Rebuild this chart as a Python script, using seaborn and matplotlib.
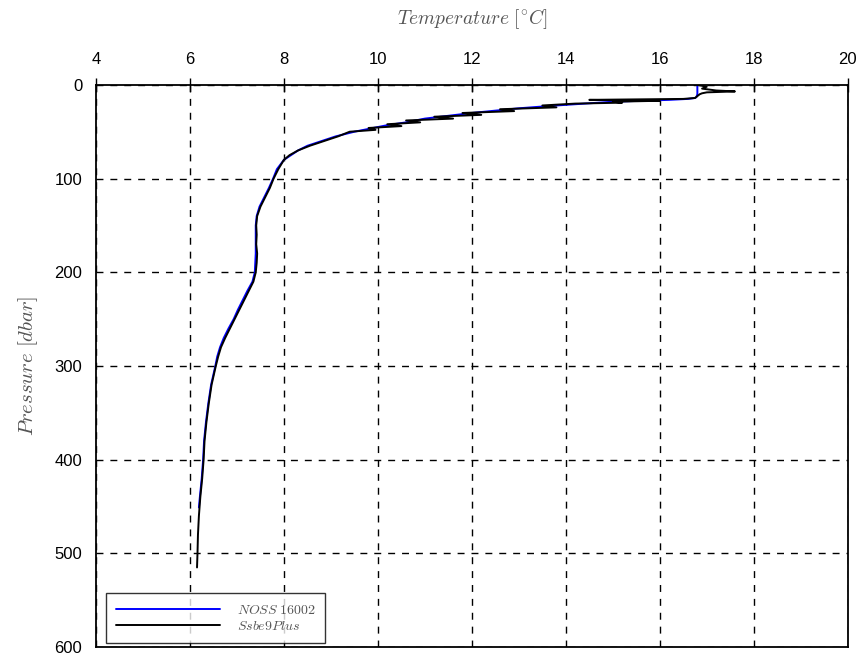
import matplotlib
matplotlib.use("Agg")
import matplotlib.pyplot as plt
import seaborn as sns
import pandas as pd

# --- data ---
noss_p = [1, 5, 10, 13, 14, 15, 16, 17, 18, 20, 22, 25, 28, 30, 33, 36, 40, 43, 46, 50,
          55, 60, 65, 70, 75, 80, 90, 100, 110, 120, 130, 140, 150, 160, 170, 180, 190,
          200, 210, 220, 230, 240, 250, 260, 270, 280, 290, 300, 320, 340, 360, 380,
          400, 420, 440, 451]
noss_t = [16.80, 16.80, 16.80, 16.78, 16.75, 16.60, 16.2, 15.6, 15.0, 14.4, 13.8, 13.0,
          12.4, 12.0, 11.5, 11.0, 10.6, 10.2, 9.9, 9.5, 9.1, 8.8, 8.5, 8.3, 8.15, 8.0,
          7.85, 7.77, 7.68, 7.58, 7.48, 7.42, 7.40, 7.40, 7.40, 7.40, 7.39, 7.38, 7.33,
          7.22, 7.12, 7.02, 6.93, 6.82, 6.72, 6.64, 6.58, 6.54, 6.45, 6.39, 6.34, 6.30,
          6.28, 6.25, 6.21, 6.19]

sbe_p = [0, 2, 4, 6, 7, 8, 9, 10, 12, 14, 15, 16, 17, 18, 19, 20, 22, 24, 26, 28, 30,
         32, 34, 36, 38, 40, 42, 44, 46, 48, 50, 55, 60, 65, 70, 75, 80, 90, 100, 110,
         120, 130, 140, 150, 160, 170, 180, 190, 200, 210, 220, 230, 240, 250, 260, 270,
         280, 290, 300, 320, 340, 360, 380, 400, 420, 440, 460, 480, 500, 515]
sbe_t = [16.80, 17.0, 16.9, 17.2, 17.6, 17.0, 16.9, 16.85, 16.80, 16.75, 16.5, 14.5,
         16.0, 15.0, 15.2, 14.2, 13.5, 13.8, 12.6, 12.9, 11.8, 12.2, 11.2, 11.6, 10.6,
         10.9, 10.2, 10.5, 9.8, 9.95, 9.4, 9.15, 8.85, 8.55, 8.3, 8.12, 8.0, 7.88, 7.78,
         7.70, 7.60, 7.50, 7.43, 7.41, 7.42, 7.41, 7.43, 7.42, 7.40, 7.35, 7.25, 7.15,
         7.05, 6.95, 6.85, 6.75, 6.66, 6.60, 6.55, 6.46, 6.40, 6.35, 6.31, 6.29, 6.26,
         6.22, 6.19, 6.17, 6.16, 6.15]

series_names = ["$NOSS\\ 16002$", "$Ssbe9Plus$"]

df = pd.concat([
    pd.DataFrame({"T": noss_t, "P": noss_p, "src": series_names[0]}),
    pd.DataFrame({"T": sbe_t, "P": sbe_p, "src": series_names[1]}),
], ignore_index=True)

sns.set_style("white")
plt.rcParams["mathtext.fontset"] = "cm"
plt.rcParams["font.family"] = ["Liberation Sans", "DejaVu Sans"]

fig = plt.figure(figsize=(8.65, 6.63), dpi=100)
ax = fig.add_axes([0.111, 0.024, 0.869, 0.848])

sns.lineplot(data=df, x="T", y="P", hue="src", sort=False, estimator=None,
             palette=["#0000ff", "#000000"], linewidth=1.4, ax=ax, legend=True)

ax.set_xlim(4, 20)
ax.set_ylim(600, 0)
ax.set_xticks(range(4, 21, 2))
ax.set_yticks(range(0, 601, 100))
ax.xaxis.tick_top()
ax.xaxis.set_label_position("top")
ax.tick_params(axis="x", direction="inout", length=10, width=1, labelsize=12, pad=8, colors="black")
ax.tick_params(axis="y", direction="out", length=6, width=1, labelsize=12, pad=4, colors="black")
ax.tick_params(axis="y", which="both", right=False)
ax.set_xlabel(r"$Temperature\ [^{\circ}C]$", fontsize=14, color="#555555", labelpad=20)
ax.set_ylabel(r"$Pressure\ [dbar]$", fontsize=15, color="#555555", labelpad=10)

for s in ax.spines.values():
    s.set_visible(True)
    s.set_color("black")
    s.set_linewidth(1.3)

ax.grid(True, color="black", linestyle=(0, (5, 5)), linewidth=1)

leg = ax.legend(loc="lower left", fontsize=10, frameon=True, fancybox=False,
                edgecolor="black", handlelength=7.5, handletextpad=1.2,
                borderpad=0.7, labelspacing=0.15, borderaxespad=0.3,
                bbox_to_anchor=(0.008, 0.0))
leg.get_frame().set_linewidth(1)
for t in leg.get_texts():
    t.set_color("#555555")

fig.savefig("out.png", dpi=100)
